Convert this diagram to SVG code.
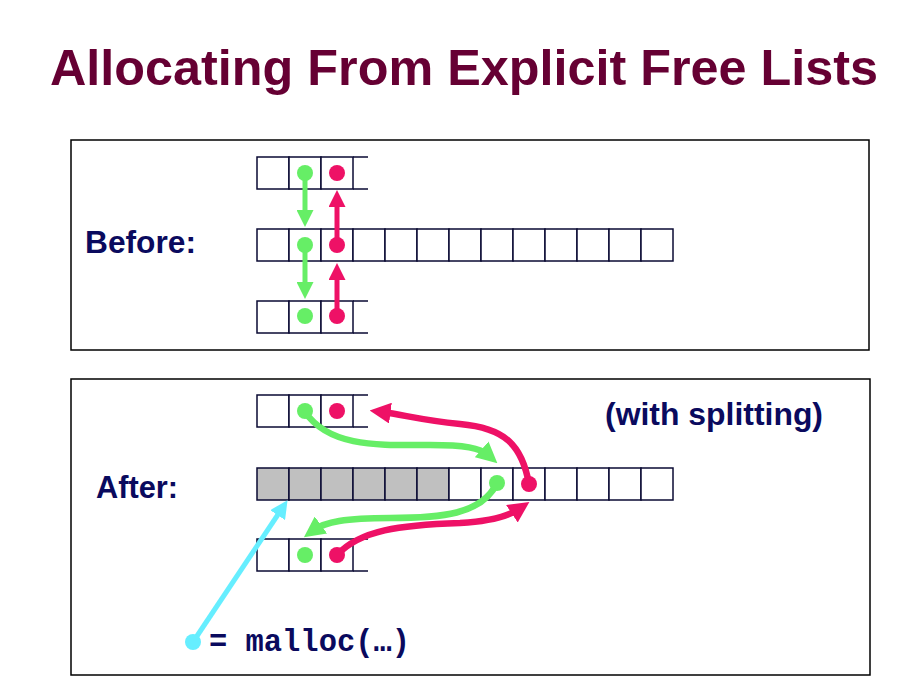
<svg xmlns="http://www.w3.org/2000/svg" width="915" height="687" viewBox="0 0 915 687">
  <style>
    .title { font-family: "Liberation Sans", Arial, sans-serif; font-weight: bold; font-size: 50px; fill: #660033; }
    .label { font-family: "Liberation Sans", Arial, sans-serif; font-weight: bold; font-size: 31px; fill: #0a0a5e; }
    .code { font-family: "Liberation Mono", "Courier New", monospace; font-weight: bold; font-size: 31px; fill: #0a0a5e; }
    .panel { fill: #ffffff; stroke: #000000; stroke-width: 1.5; }
    .cell { fill: #ffffff; stroke: #0a0a33; stroke-width: 1.5; }
    .used { fill: #c0c0c0; stroke: #0a0a33; stroke-width: 1.5; }
    .edge { fill: none; stroke: #0a0a33; stroke-width: 1.5; }
    .g { fill: none; stroke: #66ee66; }
    .r { fill: none; stroke: #ee1166; }
    .c { fill: none; stroke: #66eeff; }
    .gd { fill: #66ee66; }
    .rd { fill: #ee1166; }
    .cd { fill: #66eeff; }
  </style>
  <defs>
    <marker id="ahG" viewBox="0 0 16 16" refX="4.7" refY="8" markerWidth="17" markerHeight="17" markerUnits="userSpaceOnUse" orient="auto">
      <path d="M0,0 L16,8 L0,16 z" fill="#66ee66"/>
    </marker>
    <marker id="ahR" viewBox="0 0 16 16" refX="4.7" refY="8" markerWidth="17" markerHeight="17" markerUnits="userSpaceOnUse" orient="auto">
      <path d="M0,0 L16,8 L0,16 z" fill="#ee1166"/>
    </marker>
    <marker id="ahG2" viewBox="0 0 16 16" refX="6.5" refY="8" markerWidth="21" markerHeight="21" markerUnits="userSpaceOnUse" orient="auto">
      <path d="M0,0 L16,8 L0,16 z" fill="#66ee66"/>
    </marker>
    <marker id="ahR2" viewBox="0 0 16 16" refX="6.5" refY="8" markerWidth="21" markerHeight="21" markerUnits="userSpaceOnUse" orient="auto">
      <path d="M0,0 L16,8 L0,16 z" fill="#ee1166"/>
    </marker>
    <marker id="ahC" viewBox="0 0 16 16" refX="5.5" refY="8" markerWidth="18" markerHeight="18" markerUnits="userSpaceOnUse" orient="auto">
      <path d="M0,0 L16,8 L0,16 z" fill="#66eeff"/>
    </marker>
  </defs>

  <rect width="915" height="687" fill="#ffffff"/>

  <text class="title" x="50" y="85" textLength="828" lengthAdjust="spacingAndGlyphs">Allocating From Explicit Free Lists</text>

  <!-- panels -->
  <rect class="panel" x="71" y="140" width="798" height="210"/>
  <rect class="panel" x="71" y="379" width="799" height="296"/>

  <text class="label" x="85" y="253" textLength="111" lengthAdjust="spacingAndGlyphs">Before:</text>
  <text class="label" x="96" y="498" textLength="82" lengthAdjust="spacingAndGlyphs">After:</text>
  <text class="label" x="605" y="425" textLength="218" lengthAdjust="spacingAndGlyphs">(with splitting)</text>

  <!-- before: predecessor block (open on the right) -->
  <g id="before-prev">
    <rect class="cell" x="257" y="157" width="32" height="32"/>
    <rect class="cell" x="289" y="157" width="32" height="32"/>
    <rect class="cell" x="321" y="157" width="32" height="32"/>
    <path class="edge" d="M353,157 H368 M353,189 H368"/>
  </g>

  <!-- before: free block being allocated -->
  <g id="before-block">
    <rect class="cell" x="257" y="229" width="32" height="32"/>
    <rect class="cell" x="289" y="229" width="32" height="32"/>
    <rect class="cell" x="321" y="229" width="32" height="32"/>
    <rect class="cell" x="353" y="229" width="32" height="32"/>
    <rect class="cell" x="385" y="229" width="32" height="32"/>
    <rect class="cell" x="417" y="229" width="32" height="32"/>
    <rect class="cell" x="449" y="229" width="32" height="32"/>
    <rect class="cell" x="481" y="229" width="32" height="32"/>
    <rect class="cell" x="513" y="229" width="32" height="32"/>
    <rect class="cell" x="545" y="229" width="32" height="32"/>
    <rect class="cell" x="577" y="229" width="32" height="32"/>
    <rect class="cell" x="609" y="229" width="32" height="32"/>
    <rect class="cell" x="641" y="229" width="32" height="32"/>
  </g>

  <!-- before: successor block -->
  <g id="before-next">
    <rect class="cell" x="257" y="301" width="32" height="32"/>
    <rect class="cell" x="289" y="301" width="32" height="32"/>
    <rect class="cell" x="321" y="301" width="32" height="32"/>
    <path class="edge" d="M353,301 H368 M353,333 H368"/>
  </g>

  <!-- after: predecessor block -->
  <g id="after-prev">
    <rect class="cell" x="257" y="395" width="32" height="32"/>
    <rect class="cell" x="289" y="395" width="32" height="32"/>
    <rect class="cell" x="321" y="395" width="32" height="32"/>
    <path class="edge" d="M353,395 H368 M353,427 H368"/>
  </g>

  <!-- after: allocated part + remaining free part -->
  <g id="after-block">
    <rect class="used" x="257" y="468" width="32" height="32"/>
    <rect class="used" x="289" y="468" width="32" height="32"/>
    <rect class="used" x="321" y="468" width="32" height="32"/>
    <rect class="used" x="353" y="468" width="32" height="32"/>
    <rect class="used" x="385" y="468" width="32" height="32"/>
    <rect class="used" x="417" y="468" width="32" height="32"/>
    <rect class="cell" x="449" y="468" width="32" height="32"/>
    <rect class="cell" x="481" y="468" width="32" height="32"/>
    <rect class="cell" x="513" y="468" width="32" height="32"/>
    <rect class="cell" x="545" y="468" width="32" height="32"/>
    <rect class="cell" x="577" y="468" width="32" height="32"/>
    <rect class="cell" x="609" y="468" width="32" height="32"/>
    <rect class="cell" x="641" y="468" width="32" height="32"/>
  </g>

  <!-- after: successor block -->
  <g id="after-next">
    <rect class="cell" x="257" y="539" width="32" height="32"/>
    <rect class="cell" x="289" y="539" width="32" height="32"/>
    <rect class="cell" x="321" y="539" width="32" height="32"/>
    <path class="edge" d="M353,539 H368 M353,571 H368"/>
  </g>

  <g id="malloc-call">
    <text class="code" x="209" y="651" textLength="201" lengthAdjust="spacingAndGlyphs">= malloc(…)</text>
  </g>

  <!-- list pointers -->
  <g id="connectors">
    <!-- before -->
    <path class="g" stroke-width="5" d="M305,173 V215" marker-end="url(#ahG)"/>
    <path class="g" stroke-width="5" d="M305,245 V287" marker-end="url(#ahG)"/>
    <path class="r" stroke-width="5" d="M337,245 V202" marker-end="url(#ahR)"/>
    <path class="r" stroke-width="5" d="M337,316 V275" marker-end="url(#ahR)"/>

    <!-- after -->
    <path class="g" stroke-width="6.5" d="M305,412 C330,448 380,445 430,445 C465,445 480,448 488,455" marker-end="url(#ahG2)"/>
    <path class="r" stroke-width="6.5" d="M529,484 C522,445 505,428 460,424 C420,420 405,415 382,412" marker-end="url(#ahR2)"/>
    <path class="g" stroke-width="6.5" d="M497,483 C482,515 440,518 390,518 C345,518 325,522 314,530" marker-end="url(#ahG2)"/>
    <path class="r" stroke-width="6.5" d="M337,555 C360,530 400,525 460,523 C495,521 510,515 519,509" marker-end="url(#ahR2)"/>
    <path class="c" stroke-width="5" d="M193,642 L281,510" marker-end="url(#ahC)"/>

    <!-- pointer origins -->
    <circle class="gd" cx="305" cy="173" r="8"/>
    <circle class="rd" cx="337" cy="173" r="8"/>
    <circle class="gd" cx="305" cy="245" r="8"/>
    <circle class="rd" cx="337" cy="245" r="8"/>
    <circle class="gd" cx="305" cy="316" r="8"/>
    <circle class="rd" cx="337" cy="316" r="8"/>

    <circle class="gd" cx="305" cy="411" r="8"/>
    <circle class="rd" cx="337" cy="411" r="8"/>
    <circle class="gd" cx="497" cy="483" r="8"/>
    <circle class="rd" cx="529" cy="484" r="8"/>
    <circle class="gd" cx="305" cy="555" r="8"/>
    <circle class="rd" cx="337" cy="555" r="8"/>
    <circle class="cd" cx="193" cy="642" r="8"/>
  </g>
</svg>
